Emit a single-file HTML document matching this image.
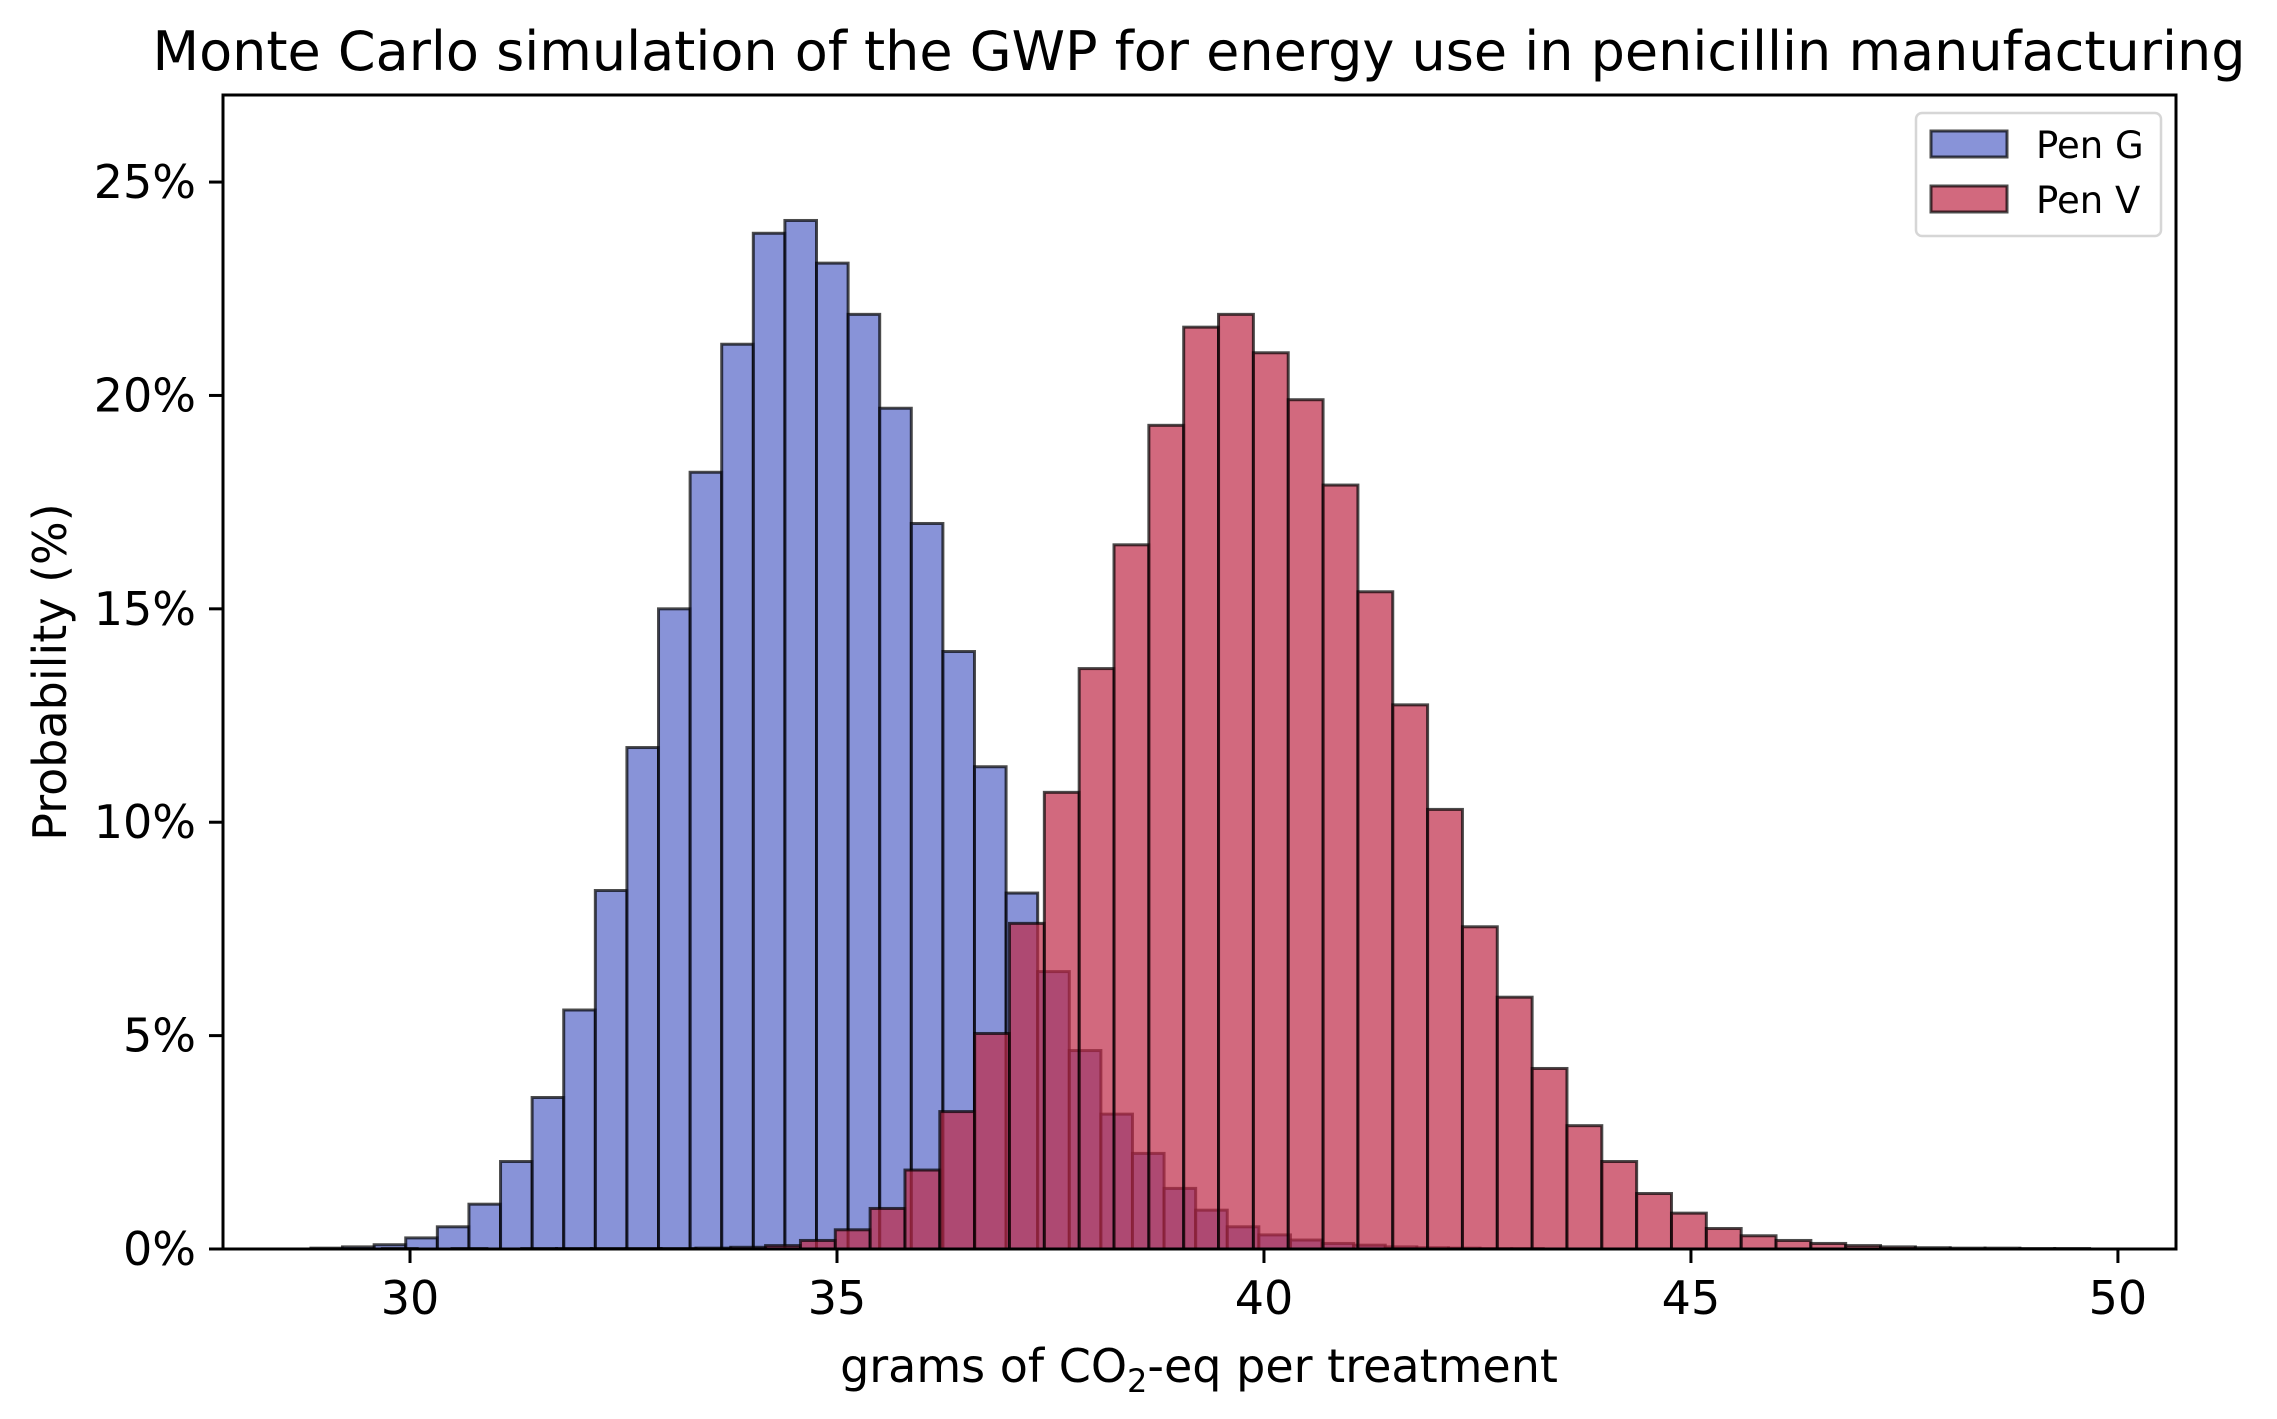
<!DOCTYPE html>
<html><head><meta charset="utf-8"><style>
html,body{margin:0;padding:0;background:#fff;}
svg{display:block;font-family:"DejaVu Sans","Liberation Sans",sans-serif;}
</style></head><body>
<svg id="chart" width="2277" height="1419" viewBox="0 0 2277 1419" xmlns="http://www.w3.org/2000/svg">
<rect width="2277" height="1419" fill="#fff"/>
<text x="1199" y="70" font-size="54" text-anchor="middle" fill="#000">Monte Carlo simulation of the GWP for energy use in penicillin manufacturing</text>
<g id="bars"></g>
<g id="axes"></g>
<text x="1199" y="1382" font-size="46" text-anchor="middle" fill="#000">grams of CO<tspan font-size="32" dy="10">2</tspan><tspan dy="-10">-eq per treatment</tspan></text>
<text x="0" y="0" font-size="46" text-anchor="middle" fill="#000" transform="translate(66,672) rotate(-90)">Probability (%)</text>
<g>
<rect x="1916" y="113" width="245" height="123" rx="6" fill="#fff" fill-opacity="0.8" stroke="#d6d6d6" stroke-width="2.5"/>
<g>
<rect x="1931" y="131" width="76" height="26" fill="rgb(85,101,200)" fill-opacity="0.7" stroke="#000" stroke-opacity="0.7" stroke-width="3"/>
<text x="2036" y="158" font-size="37" fill="#000">Pen G</text></g>
<g>
<rect x="1931" y="186" width="76" height="26" fill="rgb(191,41,71)" fill-opacity="0.7" stroke="#000" stroke-opacity="0.7" stroke-width="3"/>
<text x="2036" y="213" font-size="37" fill="#000">Pen V</text></g>
</g>
</svg>
<script>
const penGStart = 28.84;
const penGWidth = 0.37;
const penGValues = [0.02,0.05,0.1,0.26,0.52,1.05,2.05,3.55,5.6,8.4,11.75,15.0,18.2,21.2,23.8,24.1,23.1,21.9,19.7,17.0,14.0,11.3,8.34,6.5,4.65,3.16,2.24,1.42,0.91,0.52,0.33,0.21,0.13,0.09,0.05,0.03,0.02,0.01,0.01,0,0,0,0,0,0,0,0,0,0,0];
const penVStart = 29.268;
const penVWidth = 0.408;
const penVValues = [0,0.01,0,0.01,0,0.01,0.01,0.01,0.01,0.01,0.02,0.04,0.08,0.2,0.45,0.95,1.85,3.22,5.05,7.63,10.7,13.6,16.5,19.3,21.6,21.9,21.0,19.9,17.9,15.4,12.75,10.3,7.55,5.9,4.23,2.89,2.05,1.30,0.84,0.48,0.31,0.2,0.13,0.08,0.05,0.03,0.02,0.02,0.01,0.01];
const xTicks = [30,35,40,45,50];
const yTicks = [0,5,10,15,20,25];

const L=223,R=2176,T=95,B=1249;
const xMin=27.81,xMax=50.68,yMax=27.04;
const sx=v=>L+(v-xMin)/(xMax-xMin)*(R-L);
const sy=v=>B-v/yMax*(B-T);
const NS="http://www.w3.org/2000/svg";
const bars=document.getElementById('bars');
function drawSeries(start,w,vals,fill,name){
  const g=document.createElementNS(NS,'g');
  
  
  vals.forEach((v,i)=>{
    const x0=sx(start+i*w),x1=sx(start+(i+1)*w),y=sy(v);
    const r=document.createElementNS(NS,'rect');
    
    
    r.setAttribute('x',x0);r.setAttribute('y',y);
    r.setAttribute('width',x1-x0);r.setAttribute('height',Math.max(0,B-y));
    r.setAttribute('fill',fill);r.setAttribute('fill-opacity','0.7');
    r.setAttribute('stroke','#000');r.setAttribute('stroke-opacity','0.7');r.setAttribute('stroke-width','3');
    g.appendChild(r);
  });
  bars.appendChild(g);
}
drawSeries(penGStart,penGWidth,penGValues,'rgb(85,101,200)','pen-g-series');
drawSeries(penVStart,penVWidth,penVValues,'rgb(191,41,71)','pen-v-series');

const axes=document.getElementById('axes');
const frame=document.createElementNS(NS,'rect');


frame.setAttribute('x',L);frame.setAttribute('y',T);frame.setAttribute('width',R-L);frame.setAttribute('height',B-T);
frame.setAttribute('fill','none');frame.setAttribute('stroke','#000');frame.setAttribute('stroke-width','3');
axes.appendChild(frame);
xTicks.forEach(t=>{
  const x=sx(t);
  const l=document.createElementNS(NS,'line');
  
  
  l.setAttribute('x1',x);l.setAttribute('x2',x);l.setAttribute('y1',B);l.setAttribute('y2',B+14);
  l.setAttribute('stroke','#000');l.setAttribute('stroke-width','3');
  axes.appendChild(l);
  const tx=document.createElementNS(NS,'text');
  
  
  tx.setAttribute('x',x);tx.setAttribute('y',1314);tx.setAttribute('font-size','46');tx.setAttribute('text-anchor','middle');
  tx.textContent=t;
  axes.appendChild(tx);
});
yTicks.forEach(t=>{
  const y=sy(t);
  const l=document.createElementNS(NS,'line');
  
  
  l.setAttribute('x1',L-14);l.setAttribute('x2',L);l.setAttribute('y1',y);l.setAttribute('y2',y);
  l.setAttribute('stroke','#000');l.setAttribute('stroke-width','3');
  axes.appendChild(l);
  const tx=document.createElementNS(NS,'text');
  
  
  tx.setAttribute('x',L-27);tx.setAttribute('y',y+16);tx.setAttribute('font-size','46');tx.setAttribute('text-anchor','end');
  tx.textContent=t+'%';
  axes.appendChild(tx);
});
</script>
</body></html>
